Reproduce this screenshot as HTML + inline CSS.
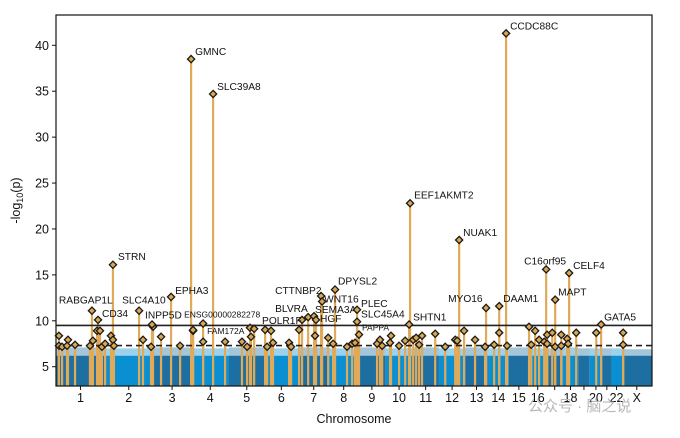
<!DOCTYPE html>
<html><head><meta charset="utf-8"><style>
body{margin:0;background:#fff;width:680px;height:433px;overflow:hidden}
svg text{font-family:"Liberation Sans","Noto Sans CJK SC",sans-serif}
</style></head><body>
<svg id="chart" width="680" height="433" xmlns="http://www.w3.org/2000/svg"></svg>
<script>
const chromLabels=["1","2","3","4","5","6","7","8","9","10","11","12","13","14","15","16","17","18","19","20","21","22","X"];
const chromLengths=[249,243,198,191,181,171,159,146,141,136,135,134,115,107,102,90,83,78,59,63,48,51,155];
const shownTicks=["1","2","3","4","5","6","7","8","9","10","11","12","13","14","15","16","18","20","22","X"];
const bgCeiling=[7.1,7.0,7.1,7.0,7.1,7.0,7.1,7.0,7.1,7.0,7.1,7.0,7.1,7.0,7.1,7.0,7.0,7.1,7.0,7.0,7.0,7.0,6.9];
const yTicks=[5,10,15,20,25,30,35,40];
const genomeWide=9.5, suggestive=7.3;
const hitNames=["STRN","RABGAP1L","CD34","SLC4A10","INPP5D","EPHA3","GMNC","SLC39A8","ENSG00000282278","FAM172A","POLR1F","BLVRA","CTTNBP2","WNT16","DPYSL2","SEMA3A","HGF","PLEC","SLC45A4","PAPPA","EEF1AKMT2","SHTN1","NUAK1","MYO16","DAAM1","CCDC88C","C16orf95","CELF4","MAPT","GATA5"];
const hitPos=[290,183,214,423,489,586,688,800,749,698,1253,1284,1350,1355,1421,1314,1324,1533,1533,1543,1803,1798,2053,2190,2257,2292,2496,2613,2542,2776];
const hitVal=[16.1,11.1,10.1,11.1,9.6,12.6,38.5,34.7,9.7,9.0,10.1,10.4,12.7,12.1,13.4,10.5,10.1,11.2,9.9,8.5,22.8,9.6,18.8,11.4,11.6,41.3,15.6,15.2,12.3,9.6];
const labDx=[5,-33,4,-17,-7,4,4,4,-19,14,-40,-33,-46,2,3,1,4,4,4,3,4,4,4,-38,4,4,-22,4,3,3];
const labDy=[-5,-7,-3,-7,-6,-3,-4,-4,-6,4,4,-5,-2,1,-5,-3,2,-3,-4,-4,-5,-4,-4,-6,-4,-4,-5,-4,-4,-4];
const smallLabels=["ENSG00000282278","FAM172A","PAPPA"];
const minorPos=[15,15,31,61,56,97,173,188,209,224,234,250,280,290,295,443,484,494,535,632,698,749,861,947,973,988,993,1009,1065,1075,1095,1105,1187,1197,1238,1319,1386,1411,1482,1508,1523,1635,1650,1661,1706,1701,1747,1778,1819,1834,1849,1864,1931,1982,2033,2043,2078,2134,2185,2231,2257,2297,2409,2420,2440,2460,2486,2501,2501,2527,2542,2573,2573,2603,2608,2649,2751,2888,2888];
const minorVal=[8.37,7.28,7.17,7.93,7.28,7.39,7.28,7.83,8.91,8.91,7.17,7.5,8.37,7.93,7.28,7.93,7.17,9.35,8.26,7.28,8.91,7.72,7.72,7.72,7.17,9.24,8.26,9.13,9.02,7.17,8.91,7.61,7.61,7.17,9.02,8.37,8.15,7.5,7.17,7.5,7.61,7.5,7.93,7.28,8.37,7.61,7.28,7.83,7.93,8.15,7.39,8.37,8.59,7.17,7.93,7.83,8.91,7.93,7.17,7.39,8.7,7.28,9.35,7.39,8.91,7.93,7.72,8.48,7.5,8.7,7.17,8.48,7.28,8.04,7.5,8.7,8.7,8.7,7.39];

const svg=document.getElementById('chart');
const NS="http://www.w3.org/2000/svg";
const L=56,R=652,T=15,B=386;
const total=chromLengths.reduce((a,b)=>a+b,0);
const yMin=2.9,yMax=43.3;
const xs=g=>L+g/total*(R-L);
const ys=v=>B-(v-yMin)/(yMax-yMin)*(B-T);
function mk(tag,attrs,parent){const e=document.createElementNS(NS,tag);for(const k in attrs)e.setAttribute(k,attrs[k]);(parent||svg).appendChild(e);return e;}

const bg=mk('g',{});


let cum=0;const starts=[];
chromLengths.forEach((len,i)=>{
  starts.push(cum);
  const col=i%2===0?'#1e6fa1':'#0b8fd3';
  const r1=mk('rect',{x:xs(cum),y:ys(6.2),width:xs(cum+len)-xs(cum),height:B-ys(6.2),fill:col},bg);
  
  
  const r2=mk('rect',{x:xs(cum),y:ys(bgCeiling[i]),width:xs(cum+len)-xs(cum),height:ys(6.2)-ys(bgCeiling[i]),fill:col,opacity:0.4},bg);
  
  
  cum+=len;
});

const cols=mk('g',{});


function column(g,v){const c=mk('rect',{x:xs(g)-1.1,y:ys(v),width:2.2,height:B-ys(v),fill:'#e0aa58'},cols);

}
minorPos.forEach((g,i)=>column(g,minorVal[i]));
hitPos.forEach((g,i)=>column(g,hitVal[i]));

const l1=mk('line',{x1:L,x2:R,y1:ys(genomeWide),y2:ys(genomeWide),stroke:'#222','stroke-width':1.6});


const l2=mk('line',{x1:L,x2:R,y1:ys(suggestive),y2:ys(suggestive),stroke:'#222','stroke-width':1.6,'stroke-dasharray':'6,4'});



function diamond(g,v,name){const x=xs(g),y=ys(v);
const d=mk('path',{d:`M${x} ${y-3.6}L${x+3.6} ${y}L${x} ${y+3.6}L${x-3.6} ${y}Z`,fill:'#dca64f',stroke:'#1a1a1a','stroke-width':1.3});

}
minorPos.forEach((g,i)=>diamond(g,minorVal[i],'lead-snp'));
hitPos.forEach((g,i)=>{
  diamond(g,hitVal[i],'lead-snp-'+hitNames[i].toLowerCase());
  const small=smallLabels.includes(hitNames[i]);
  const t=mk('text',{x:xs(g)+labDx[i],y:ys(hitVal[i])+labDy[i],'font-size':small?8.5:10.2,fill:'#111'});
  t.textContent=hitNames[i];
  
  
});

const fr=mk('rect',{x:L,y:T,width:R-L,height:B-T,fill:'none',stroke:'#111','stroke-width':1.2});



yTicks.forEach(v=>{
  const tk=mk('line',{x1:L-4,x2:L,y1:ys(v),y2:ys(v),stroke:'#111'});
  
  
  const t=mk('text',{x:L-7,y:ys(v)+4.5,'text-anchor':'end','font-size':12.5,fill:'#111'});
  t.textContent=v;
  
  
});
chromLabels.forEach((c,i)=>{
  const x=xs(starts[i]+chromLengths[i]/2);
  const tk=mk('line',{x1:x,x2:x,y1:B,y2:B+4,stroke:'#111'});
  
  
  if(shownTicks.includes(c)){
    const t=mk('text',{x:x,y:B+16,'text-anchor':'middle','font-size':12.5,fill:'#111'});
    t.textContent=c;
    
    
  }
});
const xt=mk('text',{x:(L+R)/2,y:423,'text-anchor':'middle','font-size':12.5,fill:'#111'});
xt.textContent='Chromosome';


const yt=mk('text',{x:0,y:0,'text-anchor':'middle','font-size':12.5,fill:'#111',transform:`translate(20,${(T+B)/2}) rotate(-90)`});
yt.innerHTML='-log<tspan font-size="9" dy="3">10</tspan><tspan dy="-3">(p)</tspan>';


const wm=mk('text',{x:528,y:411,'font-size':15,fill:'#b8b8b8'});
wm.textContent='公众号 · 脑之说';


</script>
</body></html>
